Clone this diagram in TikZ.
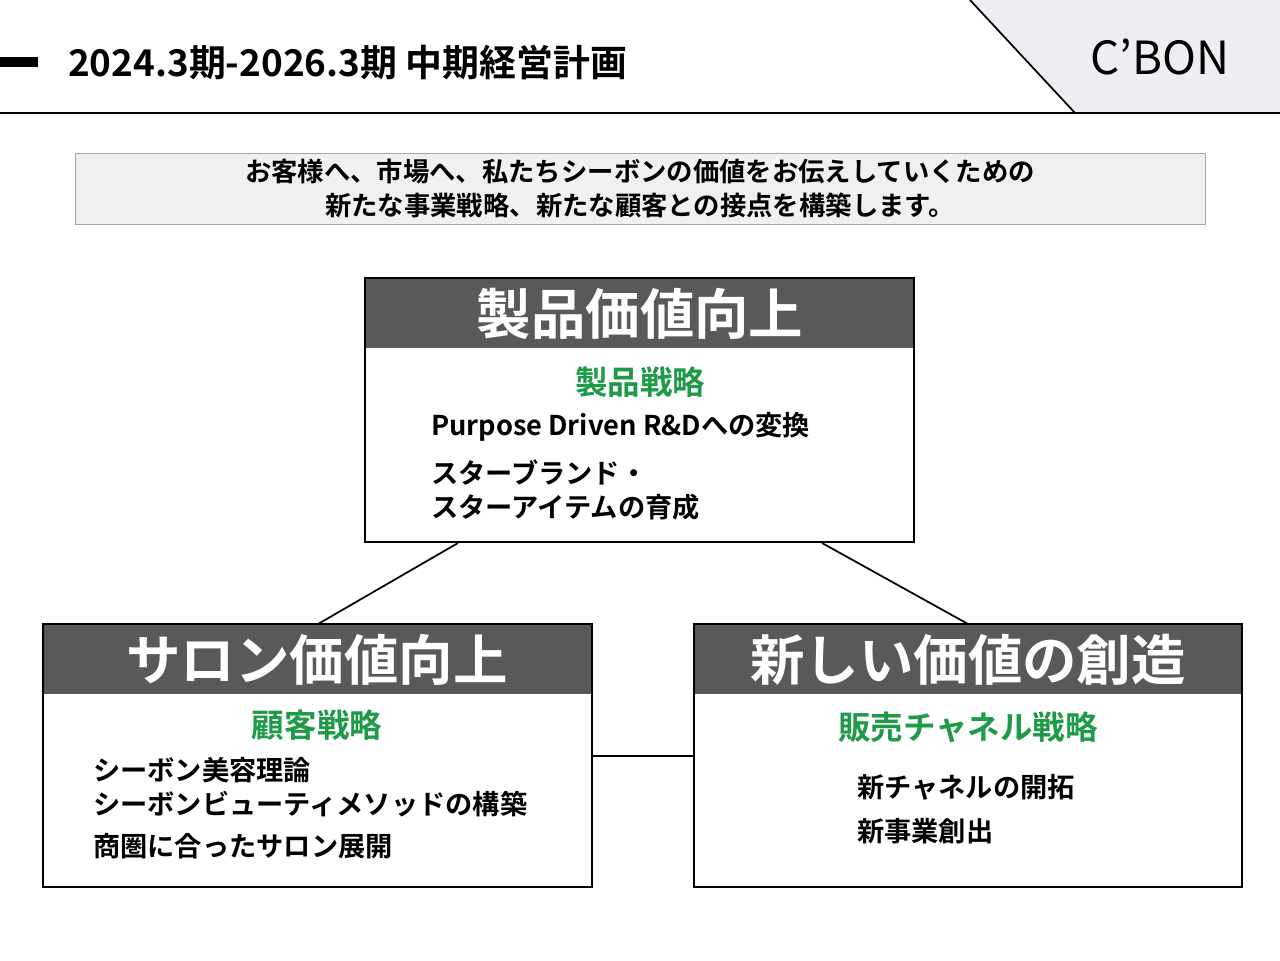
\documentclass[tikz,border=0pt]{standalone}
\usepackage{fontspec}
\setmainfont{Noto Sans CJK JP}[BoldFont={* Bold}]
\definecolor{hdr}{HTML}{595959}
\definecolor{grn}{HTML}{1E9A48}
\definecolor{pale}{HTML}{EDEEF2}
\begin{document}
\begin{tikzpicture}[x=0.02cm,y=-0.02cm,font=\bfseries,
  box/.style={draw,line width=1.5pt},
  hd/.style={fill=hdr},
  ht/.style={text=white,font=\bfseries\fontsize{31}{36}\selectfont},
  gt/.style={text=grn,font=\bfseries\fontsize{18.5}{22}\selectfont},
  it/.style={anchor=west,align=left,font=\bfseries\fontsize{15.5}{19.5}\selectfont},
  con/.style={line width=1pt}]
\useasboundingbox (0,0) rectangle (1280,960);
\fill[pale] (970,0) -- (1280,0) -- (1280,113) -- (1075,113) -- cycle;
\draw[line width=1pt] (970,0) -- (1075,113);
\draw[line width=1pt] (0,113) -- (1280,113);
\fill (0,57) rectangle (38,67);
\node[anchor=west,font=\bfseries\fontsize{21}{24}\selectfont] (title) at (62,62) {2024.3期-2026.3期 中期経営計画};
\node[font=\fontsize{26}{30}\selectfont] (logo) at (1160,57) {C’BON};
\node[draw=gray!70,fill=gray!12,minimum width=1130*0.02cm,minimum height=67*0.02cm,align=center,
  font=\bfseries\fontsize{15}{19.5}\selectfont] (intro) at (640,188.5)
  {お客様へ、市場へ、私たちシーボンの価値をお伝えしていくための\\新たな事業戦略、新たな顧客との接点を構築します。};
% top
\fill[hdr] (365,278) rectangle (914,348);
\draw[box] (365,278) rectangle (914,542);
\node[ht] (h1) at (640,314) {製品価値向上};
\node[gt] (g1) at (640,382) {製品戦略};
\node[it] (i1) at (425,427) {Purpose Driven R\&Dへの変換};
\node[it] (i2) at (425,490) {スターブランド・\\スターアイテムの育成};
% left
\fill[hdr] (43,624) rectangle (592,694);
\draw[box] (43,624) rectangle (592,887);
\node[ht] (h2) at (317,660) {サロン価値向上};
\node[gt] (g2) at (317,725) {顧客戦略};
\node[it] (i3) at (87,787) {シーボン美容理論\\シーボンビューティメソッドの構築};
\node[it] (i4) at (87,846) {商圏に合ったサロン展開};
% right
\fill[hdr] (694,624) rectangle (1242,694);
\draw[box] (694,624) rectangle (1242,887);
\node[ht] (h3) at (968,660) {新しい価値の創造};
\node[gt] (g3) at (968,727) {販売チャネル戦略};
\node[it] (i5) at (851,787) {新チャネルの開拓};
\node[it] (i6) at (851,831) {新事業創出};
\coordinate (a1) at (458,543); \coordinate (a2) at (318,624);
\coordinate (b1) at (822,543); \coordinate (b2) at (968,624);
\coordinate (c1) at (592,756); \coordinate (c2) at (694,756);
\draw[con] (a1) -- (a2); \draw[con] (b1) -- (b2); \draw[con] (c1) -- (c2);
\end{tikzpicture}
\end{document}
